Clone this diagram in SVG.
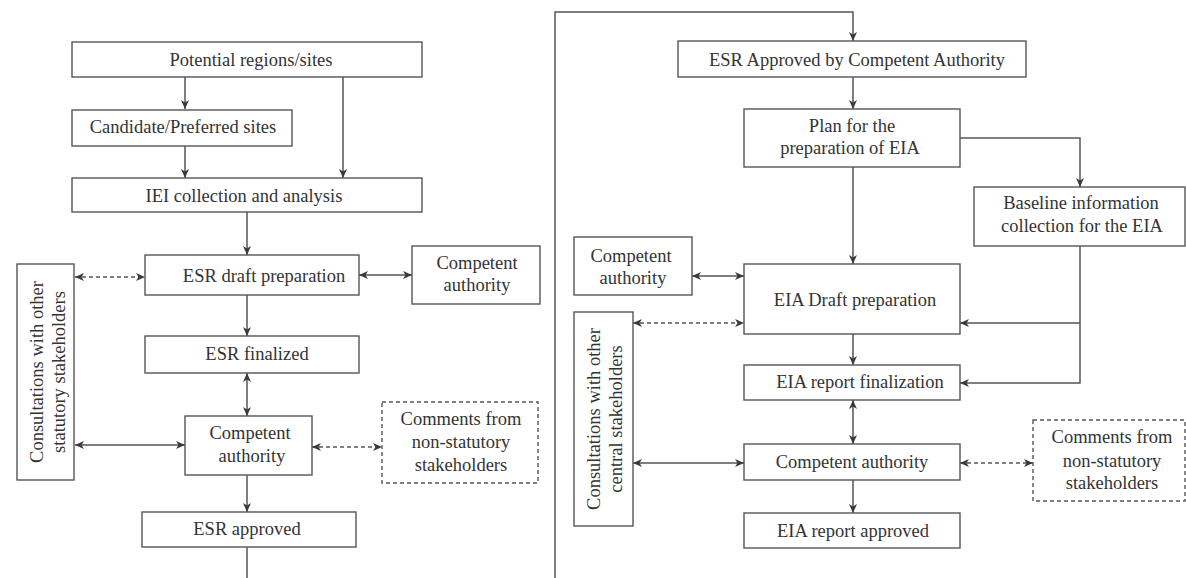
<svg xmlns="http://www.w3.org/2000/svg" width="1186" height="578" viewBox="0 0 1186 578">
<defs>
<marker id="ah" viewBox="0 0 9 8" markerWidth="9" markerHeight="8" refX="9" refY="4" orient="auto-start-reverse" markerUnits="userSpaceOnUse">
<path d="M0,0 L9,4 L0,8 L2.5,4 Z" fill="#3a3a3a"/>
</marker>
</defs>
<style>
.box{fill:#fff;stroke:#555;stroke-width:1.4}
.dbox{fill:#fff;stroke:#555;stroke-width:1.4;stroke-dasharray:4 3}
.t{font-family:'Liberation Serif','DejaVu Serif',serif;font-size:18.5px;fill:#333;text-anchor:middle}
.c{fill:none;stroke:#555;stroke-width:1.5}
.a{marker-end:url(#ah)}
.b{marker-start:url(#ah);marker-end:url(#ah)}
.d{stroke-dasharray:4 3}
</style>
<rect width="1186" height="578" fill="#fff"/>

<g id="connectors">
<line class="c a" x1="185" y1="77" x2="185" y2="109"/>
<line class="c a" x1="343" y1="77" x2="343" y2="178"/>
<line class="c a" x1="185" y1="146" x2="185" y2="178"/>
<line class="c a" x1="247" y1="212" x2="247" y2="255"/>
<line class="c b d" x1="75" y1="277" x2="145" y2="277"/>
<line class="c b" x1="359" y1="275" x2="412" y2="275"/>
<line class="c a" x1="247" y1="295" x2="247" y2="336"/>
<line class="c b" x1="247" y1="373" x2="247" y2="416"/>
<line class="c b" x1="75" y1="445" x2="185" y2="445"/>
<line class="c b d" x1="312" y1="447" x2="382" y2="447"/>
<line class="c a" x1="247" y1="475" x2="247" y2="512"/>
<line class="c" x1="247" y1="547" x2="247" y2="578"/>
<path class="c a" d="M555,578 V12 H853 V41"/>
<line class="c a" x1="853" y1="77" x2="853" y2="109"/>
<path class="c a" d="M960,138 H1080 V187"/>
<line class="c a" x1="853" y1="167" x2="853" y2="264"/>
<line class="c b" x1="692" y1="276" x2="744" y2="276"/>
<line class="c b d" x1="633" y1="323" x2="744" y2="323"/>
<path class="c a" d="M1080,246 V383 H960"/>
<path class="c a" d="M1080,323 H960"/>
<line class="c a" x1="853" y1="334" x2="853" y2="365"/>
<line class="c b" x1="853" y1="400" x2="853" y2="444"/>
<line class="c b" x1="633" y1="463" x2="744" y2="463"/>
<line class="c b d" x1="960" y1="463" x2="1033" y2="463"/>
<line class="c a" x1="853" y1="480" x2="853" y2="513"/>
</g>

<g id="potential">
<rect class="box" x="72" y="42" width="350" height="35"/>
<text class="t" x="251" y="66">Potential regions/sites</text>
</g>
<g id="candidate">
<rect class="box" x="72" y="110" width="220" height="36"/>
<text class="t" x="183" y="133">Candidate/Preferred sites</text>
</g>
<g id="iei">
<rect class="box" x="72" y="178" width="350" height="34"/>
<text class="t" x="244" y="202">IEI collection and analysis</text>
</g>
<g id="esr-draft">
<rect class="box" x="145" y="255" width="214" height="40"/>
<text class="t" x="264" y="282">ESR draft preparation</text>
</g>
<g id="ca-left-top">
<rect class="box" x="412" y="246" width="128" height="58"/>
<text class="t" x="477" y="269">Competent</text>
<text class="t" x="477" y="291">authority</text>
</g>
<g id="consult-left">
<rect class="box" x="17" y="264" width="57" height="216"/>
<text class="t" transform="translate(43,372) rotate(-90)" x="0" y="0">Consultations with other</text>
<text class="t" transform="translate(43,372) rotate(-90)" x="0" y="22">statutory stakeholders</text>
</g>
<g id="esr-finalized">
<rect class="box" x="145" y="336" width="214" height="37"/>
<text class="t" x="257" y="360">ESR finalized</text>
</g>
<g id="ca-left-mid">
<rect class="box" x="185" y="416" width="127" height="59"/>
<text class="t" x="250" y="439">Competent</text>
<text class="t" x="252" y="462">authority</text>
</g>
<g id="comments-left">
<rect class="dbox" x="382" y="402" width="156" height="81"/>
<text class="t" x="461" y="425">Comments from</text>
<text class="t" x="461" y="448">non-statutory</text>
<text class="t" x="461" y="471">stakeholders</text>
</g>
<g id="esr-approved">
<rect class="box" x="142" y="512" width="214" height="35"/>
<text class="t" x="247" y="535">ESR approved</text>
</g>

<g id="esr-approved-ca">
<rect class="box" x="678" y="41" width="348" height="36"/>
<text class="t" x="857" y="66">ESR Approved by Competent Authority</text>
</g>
<g id="plan">
<rect class="box" x="744" y="109" width="216" height="58"/>
<text class="t" x="852" y="132">Plan for the</text>
<text class="t" x="850" y="154">preparation of EIA</text>
</g>
<g id="baseline">
<rect class="box" x="974" y="187" width="211" height="59"/>
<text class="t" x="1081" y="209">Baseline information</text>
<text class="t" x="1082" y="232">collection for the EIA</text>
</g>
<g id="ca-right-top">
<rect class="box" x="574" y="237" width="118" height="58"/>
<text class="t" x="631" y="262">Competent</text>
<text class="t" x="633" y="284">authority</text>
</g>
<g id="eia-draft">
<rect class="box" x="744" y="264" width="216" height="70"/>
<text class="t" x="855" y="306">EIA Draft preparation</text>
</g>
<g id="consult-right">
<rect class="box" x="574" y="312" width="59" height="214"/>
<text class="t" transform="translate(600,419) rotate(-90)" x="0" y="0">Consultations with other</text>
<text class="t" transform="translate(600,419) rotate(-90)" x="0" y="22">central stakeholders</text>
</g>
<g id="eia-finalization">
<rect class="box" x="744" y="365" width="216" height="35"/>
<text class="t" x="860" y="388">EIA report finalization</text>
</g>
<g id="ca-right-mid">
<rect class="box" x="744" y="444" width="216" height="36"/>
<text class="t" x="852" y="468">Competent authority</text>
</g>
<g id="comments-right">
<rect class="dbox" x="1033" y="420" width="152" height="81"/>
<text class="t" x="1112" y="443">Comments from</text>
<text class="t" x="1112" y="467">non-statutory</text>
<text class="t" x="1112" y="489">stakeholders</text>
</g>
<g id="eia-approved">
<rect class="box" x="744" y="513" width="216" height="35"/>
<text class="t" x="853" y="537">EIA report approved</text>
</g>
</svg>
